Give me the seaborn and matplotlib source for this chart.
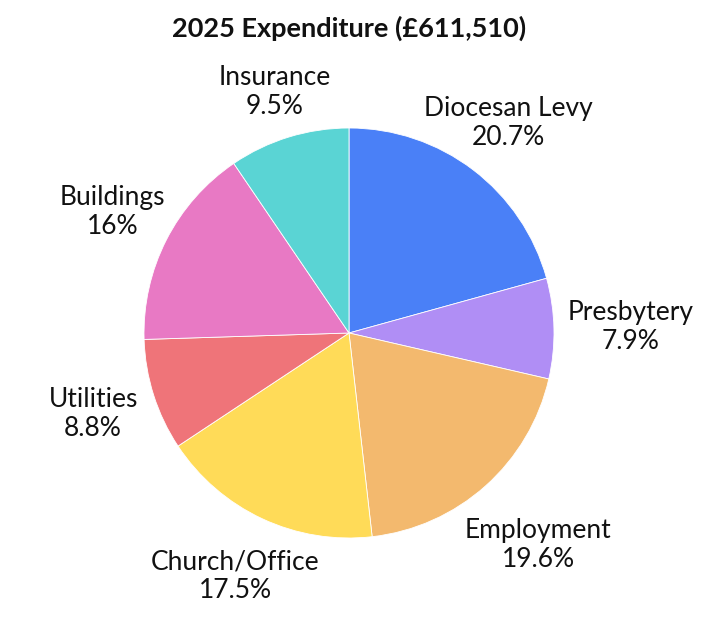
"""2025 expenditure pie chart."""

import matplotlib
matplotlib.use("Agg")
import matplotlib.pyplot as plt
import seaborn as sns

categories = ["Diocesan Levy", "Presbytery", "Employment", "Church/Office",
              "Utilities", "Buildings", "Insurance"]
shares = [20.7, 7.9, 19.6, 17.5, 8.8, 16, 9.5]
colors = ["#4A80F7", "#B08EF5", "#F3B96E", "#FFDB58",
          "#EF7479", "#E879C4", "#5AD4D4"]
title = "2025 Expenditure (£611,510)"

# label distance (in radii) per slice, tuned to the reference layout
label_dist = [1.285, 1.375, 1.385, 1.31, 1.31, 1.295, 1.23]

sns.set_theme(style="white")
plt.rcParams["font.family"] = ["Lato", "DejaVu Sans"]

W, H = 716, 623
cx, cy, r = 349, 290, 205

fig = plt.figure(figsize=(W / 100, H / 100), dpi=100)
ax = fig.add_axes([0, 0, 1, 1])

labels = [f"{c}\n{v:g}%" for c, v in zip(categories, shares)]
base = 1.3
wedges, texts = ax.pie(
    shares, labels=labels, colors=colors, startangle=90, counterclock=False,
    labeldistance=base,
    wedgeprops={"edgecolor": "white", "linewidth": 0.6},
    textprops={"ha": "center", "va": "center", "fontsize": 19,
               "color": "#111111", "linespacing": 1.2})

for t, d in zip(texts, label_dist):
    x, y = t.get_position()
    t.set_position((x * d / base, y * d / base))

ax.set_xlim(-cx / r, (W - cx) / r)
ax.set_ylim(-cy / r, (H - cy) / r)
ax.set_aspect("auto")
ax.axis("off")

fig.text(cx / W, 1 - 28 / H, title, ha="center", va="center",
         fontsize=19.5, fontweight="bold", color="#111111")

fig.savefig("out.png", dpi=100)
plt.close(fig)
